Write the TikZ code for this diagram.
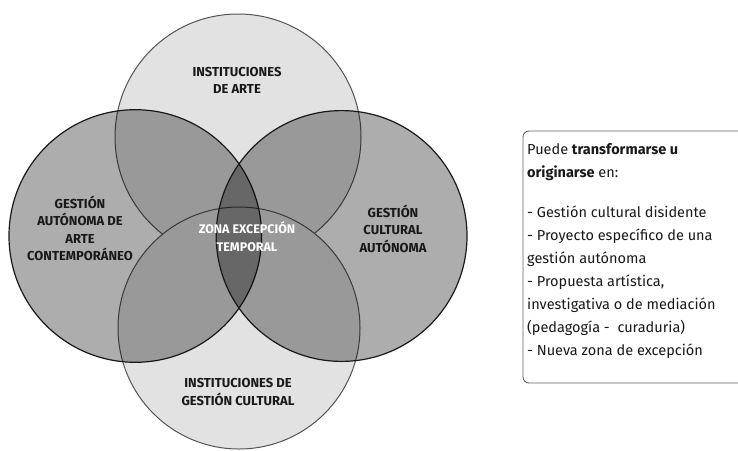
\documentclass[tikz,border=0pt]{standalone}
\usepackage{fontspec}
\setmainfont{Fira Sans}
\begin{document}
\begin{tikzpicture}[x=1pt,y=-1pt,
  lightcirc/.style={fill=lightfill, draw=lightline, line width=1pt},
  darkcirc/.style={fill=black, fill opacity=0.32, draw=darkline, draw opacity=1, line width=1.2pt},
  lbl/.style={align=center, font=\fontsize{13}{17.5}\selectfont\bfseries, text=labeltext, inner sep=0pt},
  zonelbl/.style={align=center, font=\fontsize{12.5}{17.5}\selectfont\bfseries, text=white, inner sep=0pt},
  infobox/.style={draw=boxline, line width=0.9pt, rounded corners=6pt, fill=white},
  infotext/.style={align=left, font=\fontsize{14.5}{23}\selectfont, text=labeltext, inner sep=0pt}
]
\definecolor{lightfill}{RGB}{226,226,226}
\definecolor{lightline}{RGB}{85,85,85}
\definecolor{darkline}{RGB}{25,25,25}
\definecolor{labeltext}{RGB}{25,25,25}
\definecolor{boxline}{RGB}{100,100,100}
\useasboundingbox (0,0) rectangle (738,450);
\fill[white] (0,0) rectangle (738,450);

% circles
\coordinate (ctop) at (238,137);
\coordinate (cbot) at (239,328);
\coordinate (cleft) at (135.3,236);
\coordinate (cright) at (341.6,236);
\path[lightcirc] (ctop) circle[radius=123pt];
\path[lightcirc] (cbot) circle[radius=121pt];
\path[darkcirc] (cleft) circle[radius=126.3pt];
\path[darkcirc] (cright) circle[radius=125.4pt];

% labels
\node[lbl] (arte) at (237,80.5) {INSTITUCIONES\\DE ARTE};
\node[lbl] (autarte) at (80,228.5) {GESTIÓN\\AUTÓNOMA DE\\ARTE\\CONTEMPORÁNEO};
\node[zonelbl] (zona) at (247,236.5) {ZONA EXCEPCIÓN\\TEMPORAL};
\node[lbl] (gcaut) at (393,228.5) {GESTIÓN\\CULTURAL\\AUTÓNOMA};
\node[lbl] (igc) at (238,392) {INSTITUCIONES DE\\GESTIÓN CULTURAL};

% info box
\begin{scope}
\clip (0,0) rectangle (738,450);
\path[infobox] (523,131) rectangle (760,383);
\end{scope}
\node[infotext, anchor=north west] (info) at (527,143.5) {Puede \textbf{transformarse u}\\\textbf{originarse} en:\\[17pt]- Gestión cultural disidente\\- Proyecto específico de una\\gestión autónoma\\- Propuesta artística,\\investigativa o de mediación\\(pedagogía -\ \ curaduria)\\- Nueva zona de excepción};
\end{tikzpicture}
\end{document}
